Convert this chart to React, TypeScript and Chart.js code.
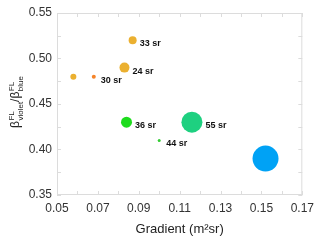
import React, { useEffect, useRef } from "react";
import { Chart, registerables } from "chart.js";

Chart.register(...registerables);

const gradients = [0.058, 0.068, 0.083, 0.087, 0.084, 0.1, 0.116, 0.152];
const ratios = [0.48, 0.48, 0.49, 0.52, 0.43, 0.41, 0.43, 0.39];
const sizes = [3, 2, 5, 4, 5.5, 1.5, 10.5, 13];
const colors = ["#EBB030", "#F5842A", "#EBB030", "#EBB030", "#1EDC1E", "#33CC33", "#1ED080", "#00A2F5"];
const pointLabels = ["", "30 sr", "24 sr", "33 sr", "36 sr", "44 sr", "55 sr", ""];

const xTicks = { min: 0.05, max: 0.17, step: 0.02, minor: 0.01 };
const yTicks = { min: 0.35, max: 0.55, step: 0.05, minor: 0.025 };

const FONT = "'Liberation Sans', Arial, sans-serif";

const decorPlugin = {
  id: "decor",
  afterDraw(chart: any) {
    const ctx = chart.ctx;
    const { left, right, top, bottom } = chart.chartArea;
    const xs = chart.scales.x;
    const ys = chart.scales.y;
    ctx.save();
    // frame
    ctx.strokeStyle = "#dcdcdc";
    ctx.lineWidth = 1;
    ctx.strokeRect(left + 0.5, top + 0.5, right - left - 1, bottom - top - 1);
    // minor ticks
    ctx.beginPath();
    for (let v = xTicks.min; v <= xTicks.max + 1e-9; v += xTicks.minor) {
      const px = Math.round(xs.getPixelForValue(v)) + 0.5;
      ctx.moveTo(px, bottom);
      ctx.lineTo(px, bottom - 4);
      ctx.moveTo(px, top);
      ctx.lineTo(px, top + 4);
    }
    for (let v = yTicks.min; v <= yTicks.max + 1e-9; v += yTicks.minor) {
      const py = Math.round(ys.getPixelForValue(v)) + 0.5;
      ctx.moveTo(left, py);
      ctx.lineTo(left + 4, py);
      ctx.moveTo(right, py);
      ctx.lineTo(right - 4, py);
    }
    ctx.stroke();

    // point labels
    ctx.fillStyle = "#111";
    ctx.font = `bold 9px ${FONT}`;
    ctx.textBaseline = "middle";
    ctx.textAlign = "left";
    const meta = chart.getDatasetMeta(0);
    meta.data.forEach((el: any, i: number) => {
      const t = pointLabels[i];
      if (!t) return;
      const r = sizes[i];
      ctx.fillText(t, el.x + Math.max(r, 4) + 3, el.y + 3.5);
    });

    // x title
    ctx.fillStyle = "#222";
    ctx.font = `13px ${FONT}`;
    ctx.textAlign = "center";
    ctx.textBaseline = "middle";
    ctx.fillText("Gradient (m\u00B2sr)", (left + right) / 2, 229);

    // y title with super/subscripts
    ctx.save();
    ctx.translate(19, 102);
    ctx.rotate(-Math.PI / 2);
    ctx.textBaseline = "alphabetic";
    ctx.textAlign = "left";
    const big = `12px ${FONT}`;
    const small = `8px ${FONT}`;
    const parts = [
      { b: "\u03B2", sup: "FL", sub: "violet" },
      { b: "/\u03B2", sup: "FL", sub: "blue" },
    ];
    const widths = parts.map((p) => {
      ctx.font = big;
      const wb = ctx.measureText(p.b).width;
      ctx.font = small;
      const ws = Math.max(ctx.measureText(p.sup).width, ctx.measureText(p.sub).width);
      return { wb, ws };
    });
    const total = widths.reduce((s, w) => s + w.wb + w.ws + 0.5, 0);
    let x = -total / 2;
    parts.forEach((p, i) => {
      ctx.font = big;
      ctx.fillText(p.b, x, 0);
      x += widths[i].wb + 0.5;
      ctx.font = small;
      ctx.fillText(p.sup, x, -5);
      ctx.fillText(p.sub, x, 3.5);
      x += widths[i].ws;
    });
    ctx.restore();
    ctx.restore();
  },
};

export default function App() {
  const ref = useRef<HTMLCanvasElement>(null);
  useEffect(() => {
    document.body.style.margin = "0";
    const canvas = ref.current!;
    const chart = new Chart(canvas, {
      type: "bubble",
      data: {
        datasets: [
          {
            data: gradients.map((g, i) => ({ x: g, y: ratios[i], r: sizes[i] })),
            backgroundColor: colors,
            borderColor: colors,
            borderWidth: 0,
            hoverRadius: 0,
          },
        ],
      },
      options: {
        animation: false,
        responsive: false,
        devicePixelRatio: 1,
        layout: { padding: { top: 11, right: 17, left: 0, bottom: 0 } },
        plugins: { legend: { display: false }, tooltip: { enabled: false } },
        scales: {
          x: {
            type: "linear",
            min: xTicks.min,
            max: xTicks.max,
            grid: { display: false, drawTicks: false },
            border: { display: false },
            ticks: {
              stepSize: xTicks.step,
              padding: 6,
              color: "#333",
              font: { family: FONT, size: 12 },
              callback: (v: any) => Number(v).toFixed(2),
            },
            afterFit: (s: any) => {
              s.height = 46;
            },
          },
          y: {
            type: "linear",
            min: yTicks.min,
            max: yTicks.max,
            grid: { display: false, drawTicks: false },
            border: { display: false },
            ticks: {
              stepSize: yTicks.step,
              padding: 5,
              color: "#333",
              font: { family: FONT, size: 12 },
              callback: (v: any) => Number(v).toFixed(2),
            },
            afterFit: (s: any) => {
              s.width = 57;
            },
          },
        },
      },
      plugins: [decorPlugin],
    });
    return () => chart.destroy();
  }, []);
  return (
    <div style={{ position: "fixed", left: 0, top: 0, width: 320, height: 241, background: "#fff" }}>
      <canvas ref={ref} width={320} height={241} style={{ width: 320, height: 241 }} />
    </div>
  );
}
